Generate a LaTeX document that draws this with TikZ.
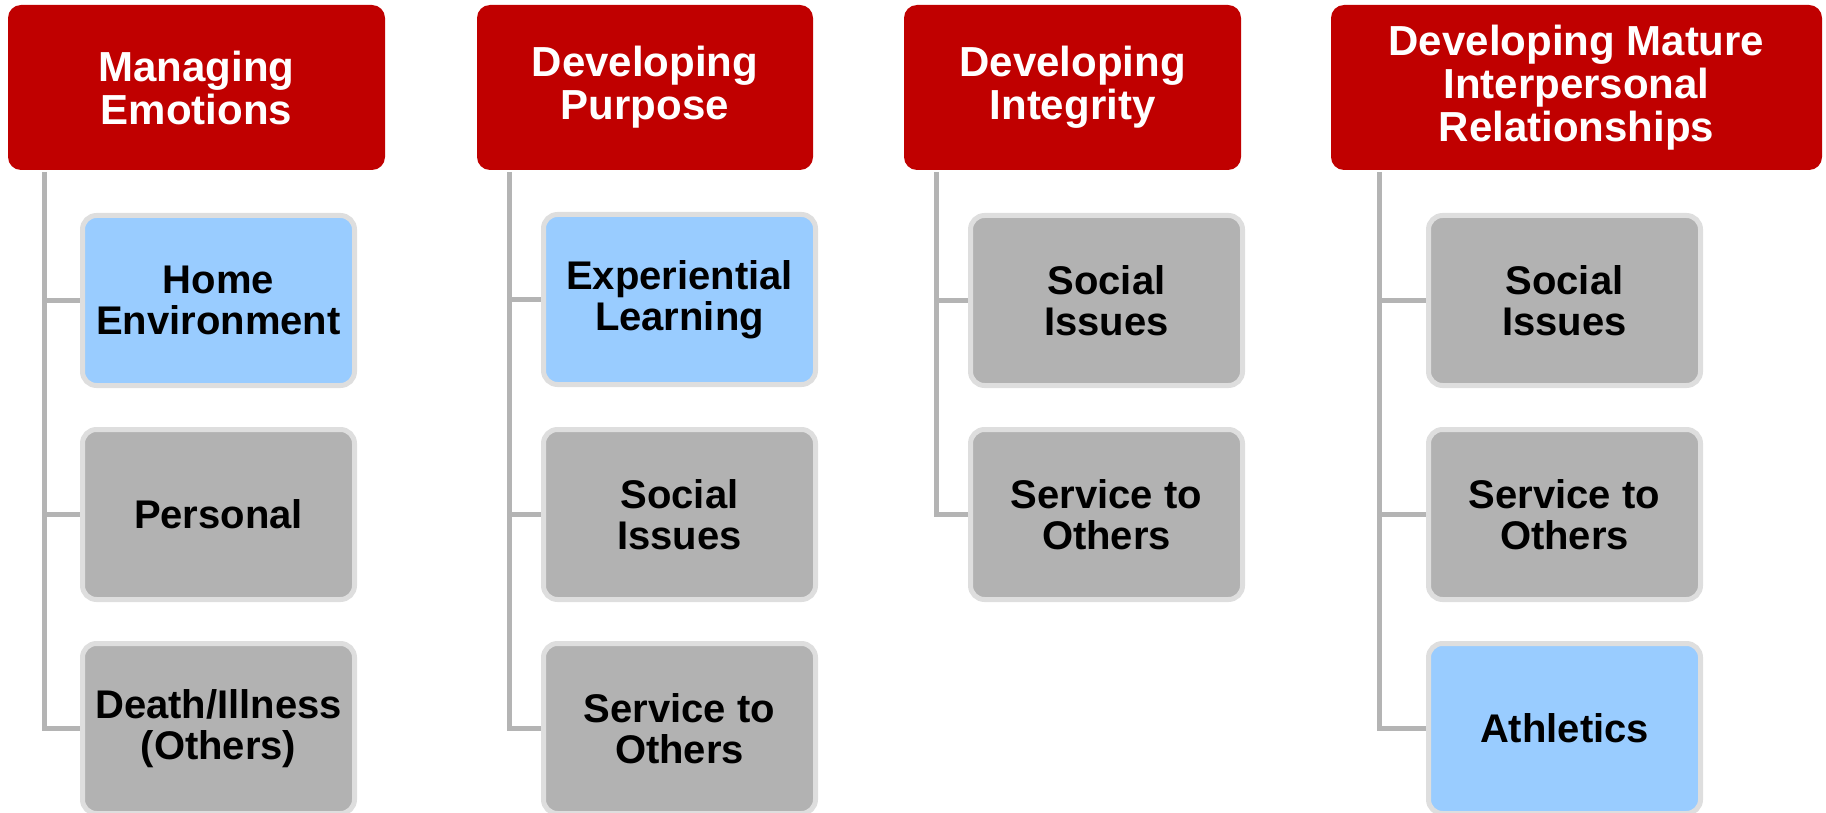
\documentclass[tikz,border=0pt]{standalone}
\usepackage{fontspec}
\setmainfont{Liberation Sans}
\usetikzlibrary{backgrounds}
\definecolor{hdrred}{HTML}{C00000}
\definecolor{boxblue}{HTML}{99CCFF}
\definecolor{boxgrey}{HTML}{B2B2B2}
\definecolor{boxrim}{HTML}{DEDEDE}
\definecolor{linegrey}{HTML}{B4B4B4}
\tikzset{
  hdr/.style={fill=hdrred, draw=none, rounded corners=13pt, inner sep=0pt,
    text=white, align=center, font=\fontsize{42}{43}\selectfont\bfseries},
  child/.style={draw=boxrim, line width=5pt, rounded corners=14pt, inner sep=0pt,
    minimum width=272pt, minimum height=170pt, align=center,
    font=\fontsize{40}{41}\selectfont\bfseries},
  greybox/.style={child, fill=boxgrey},
  bluebox/.style={child, fill=boxblue},
  conn/.style={draw=linegrey, line width=5pt}
}
\begin{document}
\begin{tikzpicture}[x=1pt,y=-1pt]
\useasboundingbox (0,0) rectangle (1826,813);
% headers
\node[hdr, minimum width=377pt, minimum height=165pt] (h1) at (196.5,87.5) {Managing\\Emotions};
\node[hdr, minimum width=336pt, minimum height=165pt] (h2) at (645,87.5) {Developing\\Purpose};
\node[hdr, minimum width=337pt, minimum height=165pt] (h3) at (1072.5,87.5) {Developing\\Integrity};
\node[hdr, minimum width=491pt, minimum height=165pt] (h4) at (1576.5,87.5) {Developing Mature\\Interpersonal\\Relationships};
% column 1
\node[bluebox] (c11) at (218.5,300.5) {Home\\Environment};
\node[greybox] (c12) at (218.5,514.5) {Personal};
\node[greybox] (c13) at (218.5,728.5) {Death/Illness\\(Others)};
% column 2
\node[bluebox] (c21) at (679.5,299.5) {Experiential\\Learning};
\node[greybox] (c22) at (679.5,514.5) {Social\\Issues};
\node[greybox] (c23) at (679.5,728.5) {Service to\\Others};
% column 3
\node[greybox] (c31) at (1106.5,300.5) {Social\\Issues};
\node[greybox] (c32) at (1106.5,514.5) {Service to\\Others};
% column 4
\node[greybox] (c41) at (1564.5,300.5) {Social\\Issues};
\node[greybox] (c42) at (1564.5,514.5) {Service to\\Others};
\node[bluebox] (c43) at (1564.5,728.5) {Athletics};
% trunk tops
\coordinate (t1) at (44,172);
\coordinate (t2) at (509,172);
\coordinate (t3) at (936,172);
\coordinate (t4) at (1379,172);
\begin{pgfonlayer}{background}
\draw[conn] (t1) |- (c13.west);
\draw[conn] (t1 |- c11.west) -- (c11.west);
\draw[conn] (t1 |- c12.west) -- (c12.west);
\draw[conn] (t2) |- (c23.west);
\draw[conn] (t2 |- c21.west) -- (c21.west);
\draw[conn] (t2 |- c22.west) -- (c22.west);
\draw[conn] (t3) |- (c32.west);
\draw[conn] (t3 |- c31.west) -- (c31.west);
\draw[conn] (t4) |- (c43.west);
\draw[conn] (t4 |- c41.west) -- (c41.west);
\draw[conn] (t4 |- c42.west) -- (c42.west);
\end{pgfonlayer}
\end{tikzpicture}
\end{document}
